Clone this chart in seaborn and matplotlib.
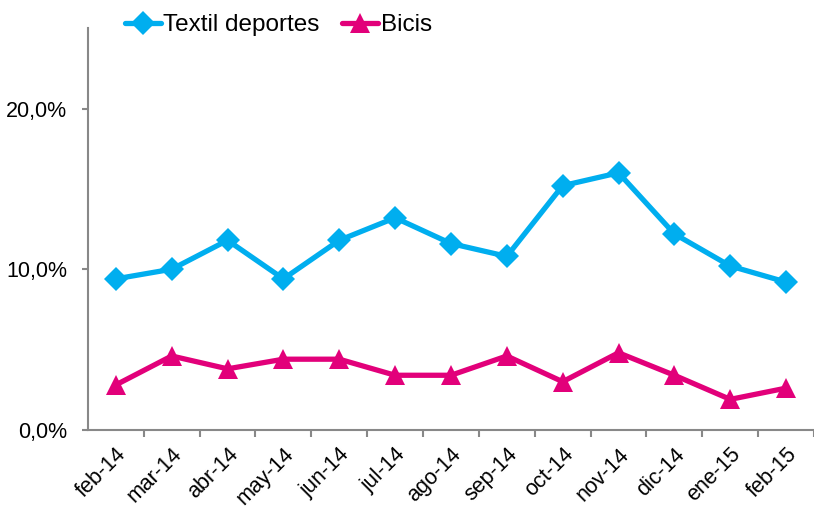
import pandas as pd
import seaborn as sns
import matplotlib.pyplot as plt
from matplotlib.ticker import FuncFormatter, FixedLocator

meses = ['feb-14', 'mar-14', 'abr-14', 'may-14', 'jun-14', 'jul-14', 'ago-14',
         'sep-14', 'oct-14', 'nov-14', 'dic-14', 'ene-15', 'feb-15']
textil = [9.4, 10.0, 11.8, 9.4, 11.8, 13.2, 11.6, 10.8, 15.2, 16.0, 12.2, 10.2, 9.2]
bicis = [2.8, 4.6, 3.8, 4.4, 4.4, 3.4, 3.4, 4.6, 3.0, 4.8, 3.4, 1.9, 2.6]
series = ['Textil deportes', 'Bicis']

df = pd.DataFrame({
    'mes': meses * 2,
    'valor': textil + bicis,
    'serie': [series[0]] * len(meses) + [series[1]] * len(meses),
})

sns.set_style('white')
plt.rcParams['font.family'] = ['Liberation Sans', 'DejaVu Sans']
plt.rcParams['text.color'] = 'black'
plt.rcParams['xtick.labelcolor'] = 'black'
plt.rcParams['ytick.labelcolor'] = 'black'

fig = plt.figure(figsize=(8.14, 5.13), dpi=100)
ax = fig.add_axes([0.108, 0.162, 0.892, 0.783])

sns.lineplot(data=df, x='mes', y='valor', hue='serie', style='serie',
             palette=['#00AEEF', '#E2007A'], markers=['D', '^'], dashes=False,
             linewidth=3.8, markersize=12, markeredgewidth=0, sort=False, ax=ax)

# triangles a bit bigger than diamonds, as in the original
for ln in ax.lines:
    if ln.get_marker() == '^':
        ln.set_markersize(14)
    elif ln.get_marker() == 'D':
        ln.set_markersize(12.5)

ax.set_xlim(-0.5, len(meses) - 0.5)
ax.set_ylim(0, 25)
ax.set_xlabel('')
ax.set_ylabel('')

ax.yaxis.set_major_locator(FixedLocator([0, 10, 20]))
ax.yaxis.set_major_formatter(FuncFormatter(lambda v, p: f'{v:.1f}%'.replace('.', ',')))
ax.set_xticks(range(len(meses)))
ax.set_xticklabels(meses, rotation=45, ha='right', rotation_mode='anchor', fontsize=15.5)
ax.tick_params(axis='x', length=0, pad=10)
ax.xaxis.set_minor_locator(FixedLocator([i + 0.5 for i in range(len(meses))]))
ax.tick_params(axis='x', which='minor', length=5, width=1.5, color='#888888', direction='out', bottom=True)
ax.tick_params(axis='y', length=4.5, width=1.5, color='#888888', direction='out', left=True,
               labelsize=15.5, pad=10.5)

for s in ['top', 'right']:
    ax.spines[s].set_visible(False)
for s in ['left', 'bottom']:
    ax.spines[s].set_color('#888888')
    ax.spines[s].set_linewidth(1.5)

leg = ax.legend(loc='center', bbox_to_anchor=(0.262, 1.008), ncol=2, frameon=False,
                fontsize=17.5, handlelength=1.5, handletextpad=0.1, columnspacing=0.9,
                borderaxespad=0)
for h in leg.legend_handles:
    if h.get_marker() == '^':
        h.set_markersize(14)
    elif h.get_marker() == 'D':
        h.set_markersize(12.5)

fig.savefig('out.png', dpi=100)
